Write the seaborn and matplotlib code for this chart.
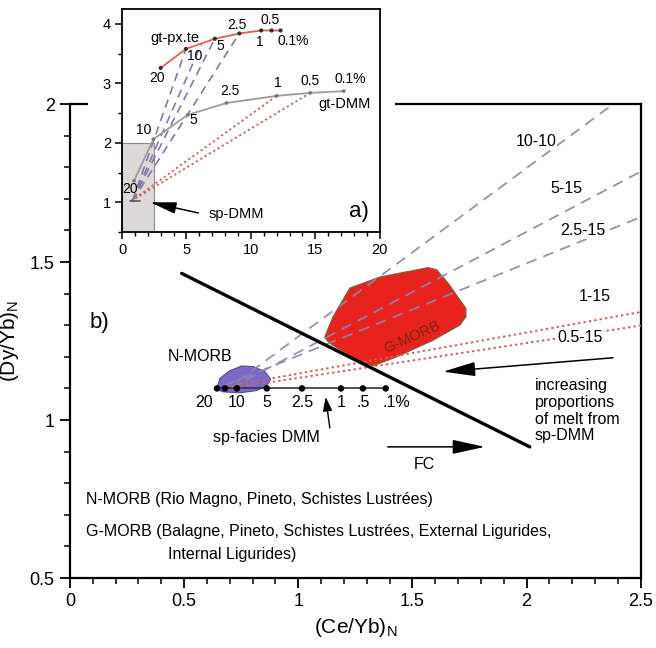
import numpy as np
import pandas as pd
import matplotlib
matplotlib.use("Agg")
import matplotlib.pyplot as plt
import seaborn as sns
from matplotlib.patches import Rectangle
from matplotlib.ticker import MultipleLocator

# ---------------- data ----------------
# sp-facies DMM melting curve (main panel b)
sp_pct = ["20", "", "10", "5", "2.5", "1", ".5", ".1%"]
sp_ce = [0.644, 0.679, 0.731, 0.862, 1.016, 1.187, 1.283, 1.383]
sp_dy = [1.10, 1.10, 1.10, 1.10, 1.10, 1.10, 1.10, 1.10]

# N-MORB field
nmorb_ce = [0.642, 0.657, 0.700, 0.752, 0.803, 0.854, 0.879, 0.861, 0.817, 0.744, 0.671]
nmorb_dy = [1.097, 1.132, 1.156, 1.171, 1.169, 1.153, 1.129, 1.108, 1.093, 1.086, 1.089]

# G-MORB field
gmorb_ce = [1.116, 1.153, 1.226, 1.357, 1.569, 1.606, 1.656, 1.734, 1.734, 1.708,
            1.591, 1.430, 1.328, 1.255, 1.138]
gmorb_dy = [1.262, 1.327, 1.417, 1.452, 1.482, 1.475, 1.433, 1.353, 1.327, 1.301,
            1.253, 1.200, 1.172, 1.190, 1.243]

# mixing lines (start and end)
mix_labels = ["10-10", "5-15", "2.5-15", "1-15", "0.5-15"]
mix_x0 = [0.73, 0.70, 0.68, 0.70, 0.70]
mix_y0 = [1.12, 1.10, 1.11, 1.108, 1.10]
mix_x1 = [2.38, 2.51, 2.51, 2.51, 2.51]
mix_y1 = [2.00, 1.79, 1.645, 1.343, 1.30]
mix_kind = ["gt-px.te", "gt-px.te", "gt-px.te", "gt-DMM", "gt-DMM"]
mix_lab_x = [2.043, 2.175, 2.248, 2.299, 2.233]
mix_lab_y = [1.881, 1.733, 1.599, 1.390, 1.262]

# fractional crystallisation trend
fc_ce = [0.489, 2.014]
fc_dy = [1.464, 0.915]

# inset a): melting curves
gtpx_pct = ["20", "10", "5", "2.5", "1", "0.5", "0.1%"]
gtpx_ce = [3.0, 4.96, 7.2, 9.1, 10.8, 11.6, 12.3]
gtpx_dy = [3.26, 3.58, 3.75, 3.84, 3.89, 3.89, 3.89]
gtpx_lab_x = [2.69, 5.66, 7.65, 8.89, 10.7, 11.5, 13.3]
gtpx_lab_y = [3.09, 3.46, 3.63, 3.98, 3.70, 4.06, 3.72]

gtdmm_pct = ["20", "10", "5", "2.5", "1", "0.5", "0.1%"]
gtdmm_ce = [0.93, 2.43, 5.1, 8.1, 12.0, 14.6, 17.2]
gtdmm_dy = [1.36, 2.06, 2.47, 2.67, 2.79, 2.84, 2.87]
gtdmm_lab_x = [0.62, 1.65, 5.53, 8.37, 12.1, 14.6, 17.7]
gtdmm_lab_y = [1.23, 2.22, 2.39, 2.87, 3.01, 3.04, 3.08]

spdmm_inset_ce = [0.6, 1.4]
spdmm_inset_dy = [1.02, 1.02]

# inset mixing lines
imix_x0 = [0.8, 0.8, 0.8, 0.8, 0.7, 0.7]
imix_y0 = [1.02, 1.02, 1.02, 1.02, 1.02, 1.02]
imix_x1 = [4.96, 6.2, 7.2, 9.1, 12.0, 14.6]
imix_y1 = [3.58, 3.68, 3.75, 3.84, 2.79, 2.84]
imix_kind = ["gt-px.te", "gt-px.te", "gt-px.te", "gt-px.te", "gt-DMM", "gt-DMM"]

# ---------------- style ----------------
sns.set_theme(style="ticks")
plt.rcParams["font.family"] = ["Liberation Sans", "DejaVu Sans"]
plt.rcParams["mathtext.fontset"] = "custom"
plt.rcParams["mathtext.rm"] = "Liberation Sans"
plt.rcParams["mathtext.it"] = "Liberation Sans:italic"
plt.rcParams["text.color"] = "black"
plt.rcParams["axes.labelcolor"] = "black"
plt.rcParams["xtick.color"] = "black"
plt.rcParams["ytick.color"] = "black"

DASH = "#8f84aa"
DOT = "#c4675e"
GTPX = "#d9625a"
GTDMM = "#9c9c9c"

fig = plt.figure(figsize=(6.56, 6.48), dpi=100)
fig.patch.set_facecolor("white")

# ---------------- main panel b) ----------------
ax = fig.add_axes([0.1067, 0.108, 0.870, 0.7315])
ax.set_xlim(0, 2.5)
ax.set_ylim(0.5, 2.0)

# fields
ax.fill(gmorb_ce, gmorb_dy, facecolor="#e8231e", edgecolor="#8a5a3a", lw=1.0, zorder=2)
ax.fill(nmorb_ce, nmorb_dy, facecolor="#7c68c8", edgecolor="#5a4a9a", lw=0.8, zorder=2)

# mixing lines
for i in range(len(mix_labels)):
    df = pd.DataFrame({"x": [mix_x0[i], mix_x1[i]], "y": [mix_y0[i], mix_y1[i]]})
    if mix_kind[i] == "gt-px.te":
        sns.lineplot(data=df, x="x", y="y", ax=ax, color=DASH, lw=1.3,
                     linestyle=(0, (6, 4)), sort=False, estimator=None, zorder=3, alpha=0.9)
    else:
        sns.lineplot(data=df, x="x", y="y", ax=ax, color=DOT, lw=1.4,
                     linestyle=(0, (1.2, 1.6)), sort=False, estimator=None, zorder=3)
    ax.text(mix_lab_x[i], mix_lab_y[i], mix_labels[i], fontsize=11.5, ha="center",
            va="center", zorder=4,
            bbox=dict(facecolor="white", edgecolor="none", pad=0.5))

# sp-facies DMM curve
sns.lineplot(x=sp_ce, y=sp_dy, ax=ax, color="#333333", lw=1.2, sort=False,
             estimator=None, zorder=5)
sns.scatterplot(x=sp_ce, y=sp_dy, ax=ax, color="black", s=22, edgecolor="none", zorder=6)
for xv, yv, lab in zip(sp_ce, sp_dy, sp_pct):
    if lab == "":
        continue
    ha, dx = "center", 0
    if lab == "20":
        ha, dx = "right", -3
    if lab == ".1%":
        ha, dx = "left", -2
    ax.annotate(lab, (xv, yv), xytext=(dx, -10), textcoords="offset points",
                ha=ha, va="center", fontsize=11.5, zorder=6)

# FC trend
sns.lineplot(x=fc_ce, y=fc_dy, ax=ax, color="black", lw=2.4, sort=False,
             estimator=None, zorder=7)

# labels / annotations
ax.text(0.569, 1.200, "N-MORB", fontsize=11.5, ha="center", va="center")
ax.text(1.50, 1.262, "G-MORB", fontsize=10.5, ha="center", va="center",
        rotation=24, color="#6a2410", alpha=0.85, zorder=3)
ax.text(0.862, 0.946, "sp-facies DMM", fontsize=11.5, ha="center", va="center")
ax.annotate("", xy=(1.12, 1.073), xytext=(1.138, 0.975),
            arrowprops=dict(arrowstyle="-|>,head_length=0.6,head_width=0.2",
                            color="black", lw=1.0, mutation_scale=14, shrinkA=0, shrinkB=0))
ax.annotate("", xy=(1.634, 1.153), xytext=(2.379, 1.197),
            arrowprops=dict(arrowstyle="-|>,head_length=1.0,head_width=0.22",
                            color="black", lw=1.1, mutation_scale=20, shrinkA=0, shrinkB=0))
ax.text(2.036, 1.133, "increasing\nproportions\nof melt from\nsp-DMM", fontsize=11.5,
        ha="left", va="top", linespacing=1.15)
ax.annotate("", xy=(1.817, 0.915), xytext=(1.392, 0.915),
            arrowprops=dict(arrowstyle="-|>,head_length=1.0,head_width=0.22",
                            color="black", lw=1.1, mutation_scale=20, shrinkA=0, shrinkB=0))
ax.text(1.554, 0.858, "FC", fontsize=11.5, ha="center", va="center")
ax.text(0.131, 1.31, "b)", fontsize=16, ha="center", va="center")

ax.text(0.070, 0.749, "N-MORB (Rio Magno, Pineto, Schistes Lustrées)", fontsize=11.5,
        ha="left", va="center")
ax.text(0.070, 0.647, "G-MORB (Balagne, Pineto, Schistes Lustrées, External Ligurides,",
        fontsize=11.5, ha="left", va="center")
ax.text(0.430, 0.573, "Internal Ligurides)", fontsize=11.5, ha="left", va="center")

ax.set_xticks([0, 0.5, 1, 1.5, 2, 2.5])
ax.set_xticklabels(["0", "0.5", "1", "1.5", "2", "2.5"])
ax.set_yticks([0.5, 1, 1.5, 2])
ax.set_yticklabels(["0.5", "1", "1.5", "2"])
ax.xaxis.set_minor_locator(MultipleLocator(0.1))
ax.yaxis.set_minor_locator(MultipleLocator(0.1))
ax.tick_params(which="major", direction="out", length=7, width=1.3, labelsize=13,
               color="black", labelcolor="black", pad=4)
ax.tick_params(which="minor", direction="out", length=4, width=1.1, color="black")
for s in ax.spines.values():
    s.set_visible(True)
    s.set_linewidth(1.6)
    s.set_color("black")
ax.set_xlabel(r"(Ce/Yb)$_{\mathrm{N}}$", fontsize=15, color="black")
ax.set_ylabel(r"(Dy/Yb)$_{\mathrm{N}}$", fontsize=15, color="black")
ax.xaxis.set_label_coords(0.5, -0.08)
ax.yaxis.set_label_coords(-0.085, 0.5)

# white area behind the inset
fig.patches.append(Rectangle((88 / 656, 1 - 255 / 648), (395 - 88) / 656, 255 / 648,
                             transform=fig.transFigure, facecolor="white",
                             edgecolor="none", zorder=2))

# ---------------- inset a) ----------------
ai = fig.add_axes([0.186, 0.642, 0.393, 0.344], zorder=3)
ai.set_xlim(0, 20)
ai.set_ylim(0.5, 4.25)
ai.add_patch(Rectangle((0, 0.5), 2.5, 1.5, facecolor="#dcdad6", edgecolor="#8a8a8a",
                       lw=0.8, zorder=1))

for i in range(len(imix_x0)):
    df = pd.DataFrame({"x": [imix_x0[i], imix_x1[i]], "y": [imix_y0[i], imix_y1[i]]})
    if imix_kind[i] == "gt-px.te":
        sns.lineplot(data=df, x="x", y="y", ax=ai, color="#8577a8", lw=1.2,
                     linestyle=(0, (5, 3.5)), sort=False, estimator=None, zorder=2)
    else:
        sns.lineplot(data=df, x="x", y="y", ax=ai, color=DOT, lw=1.3,
                     linestyle=(0, (1.2, 1.6)), sort=False, estimator=None, zorder=2)

sns.lineplot(x=gtpx_ce, y=gtpx_dy, ax=ai, color=GTPX, lw=1.3, sort=False,
             estimator=None, zorder=3)
sns.scatterplot(x=gtpx_ce, y=gtpx_dy, ax=ai, color="#333333", s=9, edgecolor="none",
                zorder=4)
sns.lineplot(x=gtdmm_ce, y=gtdmm_dy, ax=ai, color=GTDMM, lw=1.3, sort=False,
             estimator=None, zorder=3)
sns.scatterplot(x=gtdmm_ce, y=gtdmm_dy, ax=ai, color="#777777", s=7, edgecolor="none",
                zorder=4)
sns.lineplot(x=spdmm_inset_ce, y=spdmm_inset_dy, ax=ai, color="#555555", lw=1.2,
             sort=False, estimator=None, zorder=4)

for xv, yv, lab in zip(gtpx_lab_x, gtpx_lab_y, gtpx_pct):
    ai.text(xv, yv, lab, fontsize=10, ha="center", va="center", zorder=5)
for xv, yv, lab in zip(gtdmm_lab_x, gtdmm_lab_y, gtdmm_pct):
    ai.text(xv, yv, lab, fontsize=10, ha="center", va="center", zorder=5)

ai.text(4.1, 3.76, "gt-px.te", fontsize=10.5, ha="center", va="center")
ai.text(17.3, 2.65, "gt-DMM", fontsize=10.5, ha="center", va="center")
ai.text(8.9, 0.80, "sp-DMM", fontsize=10.5, ha="center", va="center")
ai.text(18.4, 0.84, "a)", fontsize=16, ha="center", va="center")
ai.annotate("", xy=(2.17, 1.0), xytext=(5.92, 0.82),
            arrowprops=dict(arrowstyle="-|>,head_length=1.0,head_width=0.22",
                            color="black", lw=1.1, mutation_scale=16, shrinkA=0, shrinkB=0))

ai.set_xticks([0, 5, 10, 15, 20])
ai.set_yticks([1, 2, 3, 4])
ai.xaxis.set_minor_locator(MultipleLocator(1))
ai.yaxis.set_minor_locator(MultipleLocator(0.5))
ai.tick_params(which="major", direction="out", length=5, width=1.1, labelsize=10.5,
               color="black", labelcolor="black", pad=3)
ai.tick_params(which="minor", direction="out", length=3, width=1.0, color="black")
for s in ai.spines.values():
    s.set_visible(True)
    s.set_linewidth(1.3)
    s.set_color("black")
ai.set_xlabel("")
ai.set_ylabel("")

fig.savefig("out.png", dpi=100, facecolor="white")
